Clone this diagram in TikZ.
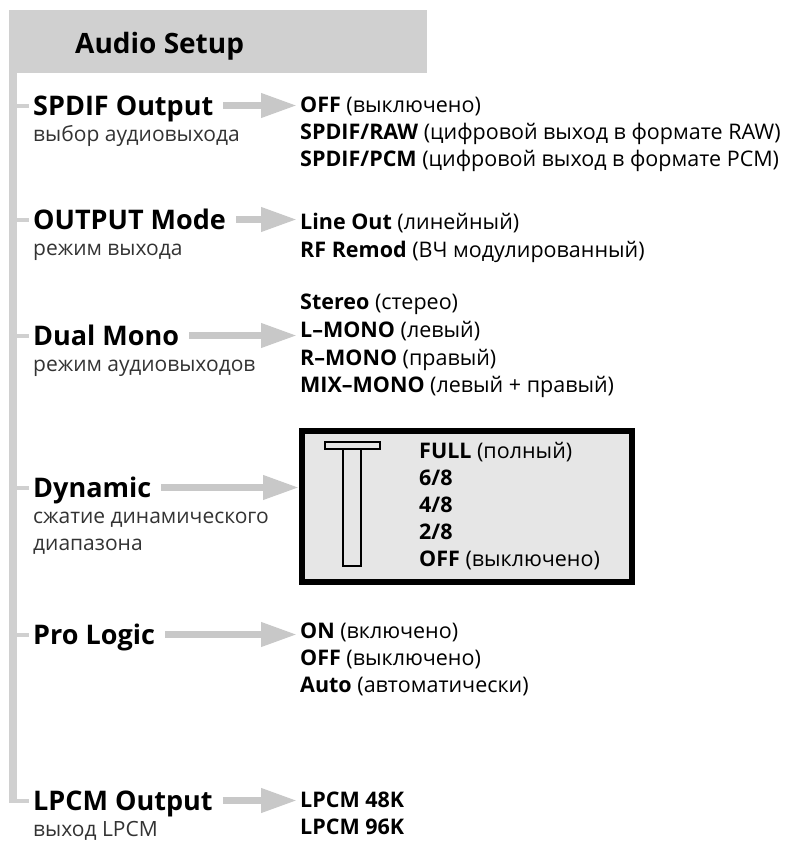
\documentclass[tikz,border=0pt]{standalone}
\usepackage{fontspec}
\setmainfont{Open Sans}
\usetikzlibrary{arrows.meta}

\definecolor{bargray}{HTML}{D0D0D0}
\definecolor{arrowgray}{HTML}{C8C8C8}
\definecolor{boxgray}{HTML}{E6E6E6}
\definecolor{subgray}{HTML}{333333}

\tikzset{
  item/.style={anchor=base west, inner sep=0pt, text height=19pt, text depth=0pt,
    font=\bfseries\fontsize{27}{30}\selectfont},
  subitem/.style={anchor=base west, inner sep=0pt, text=subgray,
    font=\fontsize{21}{24}\selectfont},
  choice/.style={anchor=base west, inner sep=0pt, font=\fontsize{21.5}{24}\selectfont},
  bigarrow/.style={arrowgray, line width=7pt,
    -{Triangle[length=36pt, width=23pt]}},
  tick/.style={bargray, line width=4pt},
  dynbox/.style={draw, line width=6pt, fill=boxgray, minimum width=330pt,
    minimum height=151pt, anchor=north west},
  slider/.style={draw, line width=1.5pt, fill=boxgray}
}

\begin{document}
\begin{tikzpicture}[x=1pt, y=-1pt]
\useasboundingbox (0,0) rectangle (805,843);

% Header and side bar
\fill[bargray] (9,10) rectangle (427,73);
\node[anchor=base west, inner sep=0pt, font=\bfseries\fontsize{28}{31}\selectfont] (head) at (75,53) {Audio Setup};
\fill[bargray] (9,73) rectangle (17,803);

% Menu items
\node[item] (spdif) at (33,115) {SPDIF Output};
\node[subitem] at (33,141) {выбор аудиовыхода};
\node[item] (outmode) at (33,229) {OUTPUT Mode};
\node[subitem] at (33,255) {режим выхода};
\node[item] (dualmono) at (33,345) {Dual Mono};
\node[subitem] at (33,371) {режим аудиовыходов};
\node[item] (dynamic) at (33,497) {Dynamic};
\node[subitem] at (33,523) {сжатие динамического};
\node[subitem] at (33,550) {диапазона};
\node[item] (prologic) at (33,644) {Pro Logic};
\node[item] (lpcm) at (33,810) {LPCM Output};
\node[subitem] at (33,836) {выход LPCM};

% Ticks from the bar
\foreach \n in {spdif, outmode, dualmono, dynamic, prologic, lpcm}
  \draw[tick] (\n.west -| 17,0) -- ([xshift=-4pt]\n.west);

% Choices
\node[choice] (spdifA) at (300,112) {\textbf{OFF} (выключено)};
\node[choice] (spdifB) at (300,139) {\textbf{SPDIF/RAW} (цифровой выход в формате RAW)};
\node[choice] (spdifC) at (300,166) {\textbf{SPDIF/PCM} (цифровой выход в формате PCM)};

\node[choice] (outA) at (300,229) {\textbf{Line Out} (линейный)};
\node[choice] (outB) at (300,257) {\textbf{RF Remod} (ВЧ модулированный)};

\node[choice] (dualA) at (300,309) {\textbf{Stereo} (стерео)};
\node[choice] (dualB) at (300,337) {\textbf{L--MONO} (левый)};
\node[choice] (dualC) at (300,365) {\textbf{R--MONO} (правый)};
\node[choice] (dualD) at (300,392) {\textbf{MIX--MONO} (левый + правый)};

% Dynamic range box
\node[dynbox] (dynbox) at (299,428) {};
\draw[slider] (343,449) rectangle (361,566);
\draw[slider] (325,442) rectangle (380,449);
\node[choice] (dynA) at (419,458) {\textbf{FULL} (полный)};
\node[choice] (dynB) at (419,485) {\textbf{6/8}};
\node[choice] (dynC) at (419,512) {\textbf{4/8}};
\node[choice] (dynD) at (419,539) {\textbf{2/8}};
\node[choice] (dynE) at (419,566) {\textbf{OFF} (выключено)};

\node[choice] (proA) at (300,638) {\textbf{ON} (включено)};
\node[choice] (proB) at (300,665) {\textbf{OFF} (выключено)};
\node[choice] (proC) at (300,692) {\textbf{Auto} (автоматически)};

\node[choice] (lpcmA) at (300,807) {\textbf{LPCM 48K}};
\node[choice] (lpcmB) at (300,834) {\textbf{LPCM 96K}};

% Arrows
\draw[bigarrow] ([xshift=10pt]spdif.east) -- ([xshift=-3pt]spdifA.west |- spdif.east);
\draw[bigarrow] ([xshift=10pt]outmode.east) -- ([xshift=-3pt]outA.west |- outmode.east);
\draw[bigarrow] ([xshift=10pt]dualmono.east) -- ([xshift=-3pt]dualB.west |- dualmono.east);
\draw[bigarrow] ([xshift=10pt]dynamic.east) -- (dynbox.west |- dynamic.east);
\draw[bigarrow] ([xshift=10pt]prologic.east) -- ([xshift=-3pt]proA.west |- prologic.east);
\draw[bigarrow] ([xshift=10pt]lpcm.east) -- ([xshift=-3pt]lpcmA.west |- lpcm.east);

\end{tikzpicture}
\end{document}
